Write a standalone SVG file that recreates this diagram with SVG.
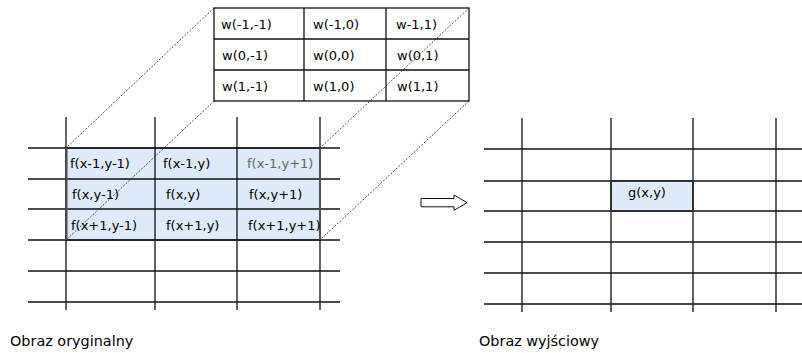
<svg xmlns="http://www.w3.org/2000/svg" width="802" height="353" viewBox="0 0 802 353">
  <style>
    .grid { stroke: #111; stroke-width: 1.3; fill: none; }
    .cell { fill: #deebfb; stroke: #444; stroke-width: 1.6; }
    .box { fill: #fff; stroke: #111; stroke-width: 1.3; }
    .lbl { font-family: "DejaVu Sans", Verdana, sans-serif; font-size: 13px; fill: #000; }
    .dim { fill: #666; }
    .cap { font-family: "DejaVu Sans", Verdana, sans-serif; font-size: 14.4px; fill: #000; }
    .proj { stroke: #222; stroke-width: 0.8; stroke-dasharray: 2 1.5; fill: none; }
  </style>
  <rect width="802" height="353" fill="#fff"/>

  <!-- input image grid with 3x3 neighbourhood -->
  <g id="input-image">
    <rect class="cell" x="66" y="148" width="254" height="92"/>
    <path class="grid" d="M28 148H340M28 179H340M28 209H340M28 240H340M28 271H340M28 302H340"/>
    <path class="grid" d="M66 117V310M155 117V310M237 117V310M320 117V310"/>
    <path d="M66.5 148V240" stroke="#555" stroke-width="2.2"/>
    <path d="M320 148V240" stroke="#555" stroke-width="1.8"/>
    <g class="lbl">
      <text x="70" y="168">f(x-1,y-1)</text>
      <text x="163" y="168">f(x-1,y)</text>
      <text x="247" y="168" class="lbl dim">f(x-1,y+1)</text>
      <text x="72" y="199">f(x,y-1)</text>
      <text x="166" y="199">f(x,y)</text>
      <text x="249" y="199">f(x,y+1)</text>
      <text x="71" y="230">f(x+1,y-1)</text>
      <text x="166" y="230">f(x+1,y)</text>
      <text x="248" y="230">f(x+1,y+1)</text>
    </g>
  </g>

  <!-- filter mask -->
  <g id="kernel">
    <rect class="box" x="214" y="8" width="255" height="93"/>
    <path class="grid" d="M214 39H469M214 70H469M304 8V101M386 8V101"/>
    <g class="lbl">
      <text x="221" y="29">w(-1,-1)</text>
      <text x="313" y="29">w(-1,0)</text>
      <text x="396" y="29">w-1,1)</text>
      <text x="222" y="60">w(0,-1)</text>
      <text x="313" y="60">w(0,0)</text>
      <text x="397" y="60">w(0,1)</text>
      <text x="222" y="91">w(1,-1)</text>
      <text x="313" y="91">w(1,0)</text>
      <text x="397" y="91">w(1,1)</text>
    </g>
  </g>

  <!-- output image grid -->
  <g id="output-image">
    <rect class="cell" x="611" y="181" width="82" height="30"/>
    <path class="grid" d="M484 149H802M484 181H802M484 211H802M484 242H802M484 273H802M484 304H802"/>
    <path class="grid" d="M522 118V312M611 118V312M693 118V312M776 118V312"/>
    <rect x="611" y="181" width="82" height="30" fill="none" stroke="#333" stroke-width="1.8"/>
    <text class="lbl" x="628" y="197">g(x,y)</text>
  </g>

  <!-- transform arrow -->
  <g id="arrow">
    <polygon points="421,198.5 454,198.5 454,195 467,202.7 454,210.4 454,206.8 421,206.8" fill="#fff" stroke="#111" stroke-width="1"/>
  </g>

  <!-- projection lines from mask corners to neighbourhood corners -->
  <g id="connectors">
    <line class="proj" x1="214" y1="8" x2="66" y2="148"/>
    <line class="proj" x1="469" y1="8" x2="320" y2="148"/>
    <line class="proj" x1="214" y1="101" x2="66" y2="240"/>
    <line class="proj" x1="469" y1="101" x2="320" y2="240"/>
  </g>

  <g id="captions">
    <text class="cap" x="10" y="346">Obraz oryginalny</text>
    <text class="cap" x="479" y="346">Obraz wyjściowy</text>
  </g>
</svg>
